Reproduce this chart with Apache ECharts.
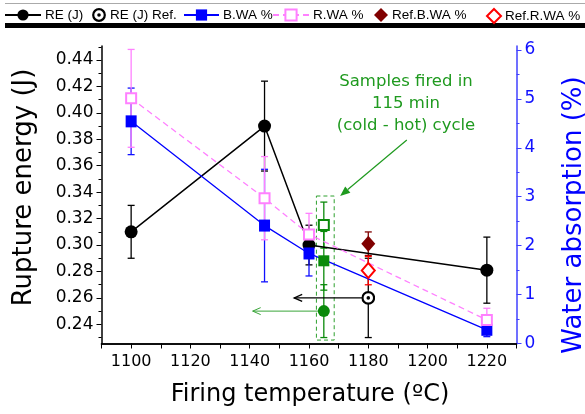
<!DOCTYPE html>
<html>
<head>
<meta charset="utf-8">
<script src="https://cdn.jsdelivr.net/npm/echarts@6/dist/echarts.min.js"></script>
<style>html,body{margin:0;padding:0;background:#fff;}#c{width:585px;height:414px;}</style>
</head>
<body>
<div id="c"></div>
<script>
// ---- data ----
const temps = [1100, 1145, 1160, 1220];
const reValues = [0.310, 0.390, 0.300, 0.281];
const reErrors = [0.020, 0.034, 0.015, 0.025];
const bwaValues = [4.54, 2.41, 1.84, 0.28];
const bwaErrors = [0.68, 1.15, 0.46, 0.14];
const rwaValues = [5.01, 2.97, 2.23, 0.48];
const rwaErrors = [1.00, 0.85, 0.43, 0.24];

const refTemps = [1180];
const refRE = [0.26];
const refREErrors = [0.03];
const refBWA = [2.04];
const refBWAErrors = [0.24];
const refRWA = [1.49];
const refRWAErrors = [0.29];

const cycleTemps = [1165];
const cycleRE = [0.25];
const cycleREErrors = [0.02];
const cycleBWA = [1.69];
const cycleBWAErrors = [0.60];
const cycleRWA = [2.42];
const cycleRWAErrors = [0.47];

const arrowFromX = [1178, 1163];
const arrowToX = [1155, 1141];
const arrowY = [0.26, 0.25];
const cycleBoxX = [1162.5, 1168.5];
const cycleBoxY = [0.2281, 0.3371];
const noteArrowFrom = [1193, 0.3795];
const noteArrowTo = [1170.5, 0.3371];

const xTickLabels = [1100, 1120, 1140, 1160, 1180, 1200, 1220];
const leftTicks = [0.24, 0.26, 0.28, 0.30, 0.32, 0.34, 0.36, 0.38, 0.40, 0.42, 0.44];
const leftMinorTicks = [0.23, 0.25, 0.27, 0.29, 0.31, 0.33, 0.35, 0.37, 0.39, 0.41, 0.43, 0.45];
const rightTicks = [0, 1, 2, 3, 4, 5, 6];
const rightMinorTicks = [0.5, 1.5, 2.5, 3.5, 4.5, 5.5];

const legendNames = ['RE (J)', 'RE (J) Ref.', 'B.WA %', 'R.WA %', 'Ref.B.WA %', 'Ref.R.WA %'];
const noteText = 'Samples fired in\n115 min\n(cold - hot) cycle';
const xTitle = 'Firing temperature (ºC)';
const yLeftTitle = 'Rupture energy (J)';
const yRightTitle = 'Water absorption (%)';

// ---- helpers ----
const pairs = (xs, ys) => xs.map((x, i) => [x, ys[i]]);
const errs = (xs, ys, es) => xs.map((x, i) => [x, ys[i] - es[i], ys[i] + es[i]]);

const ringSvg = "<svg xmlns='http://www.w3.org/2000/svg' width='28' height='28' viewBox='0 0 28 28'>" +
  "<circle cx='14' cy='14' r='11.6' fill='white' stroke='black' stroke-width='4.4'/>" +
  "<circle cx='14' cy='14' r='3.6' fill='black'/></svg>";
const ringSymbol = 'image://data:image/svg+xml;charset=utf-8,' + encodeURIComponent(ringSvg);

function errRender(color, lw) {
  return function (params, api) {
    const x = api.value(0);
    const lo = api.coord([x, api.value(1)]);
    const hi = api.coord([x, api.value(2)]);
    const c = 3.5;
    const st = { stroke: color, lineWidth: lw };
    return { type: 'group', children: [
      { type: 'line', shape: { x1: lo[0], y1: lo[1], x2: hi[0], y2: hi[1] }, style: st },
      { type: 'line', shape: { x1: lo[0] - c, y1: lo[1], x2: lo[0] + c, y2: lo[1] }, style: st },
      { type: 'line', shape: { x1: hi[0] - c, y1: hi[1], x2: hi[0] + c, y2: hi[1] }, style: st }
    ]};
  };
}
function errSeries(name, data, yIdx, color, lw) {
  return { type: 'custom', name: name, data: data, yAxisIndex: yIdx, z: 1, silent: true,
    renderItem: errRender(color, lw), animation: false };
}

const FONT = 'DejaVu Sans';
const BLUE = '#1010ff';
const PINK = '#ff80ff';
const GREEN = '#0a8a0a';

const chart = echarts.init(document.getElementById('c'), null, { renderer: 'canvas' });

const legendLefts = [4, 92, 183, 272, 374, 486];
const legendWidths = [36, 14, 35, 36, 14, 14];
const legends = legendNames.map((n, i) => ({
  data: [n], left: legendLefts[i], top: 8, padding: 0, itemGap: 0,
  itemWidth: legendWidths[i], itemHeight: 14, selectedMode: false,
  textStyle: { fontFamily: 'Liberation Sans', fontSize: 13.5, color: '#000', padding: [0, 0, 0, -1] }
}));

const option = {
  animation: false,
  backgroundColor: '#fff',
  legend: legends,
  grid: { left: 101.5, right: 68.5, top: 46, bottom: 70.5, containLabel: false, outerBoundsMode: 'none' },
  xAxis: [
    { type: 'value', min: 1090, max: 1230, interval: 10, position: 'bottom',
      axisLine: { lineStyle: { color: '#000', width: 1.5 } },
      axisTick: { length: 5, lineStyle: { color: '#000', width: 1 } },
      splitLine: { show: false },
      axisLabel: { interval: 0, margin: 10, fontFamily: FONT, fontSize: 16, color: '#000',
        formatter: v => (xTickLabels.indexOf(v) >= 0 ? String(v) : '') } },
    { type: 'value', min: 1090, max: 1230, interval: 10, position: 'top',
      axisLine: { lineStyle: { color: '#000', width: 1.5 } },
      axisTick: { inside: true, length: 4, lineStyle: { color: '#000' } },
      splitLine: { show: false }, axisLabel: { show: false } }
  ],
  yAxis: [
    { type: 'value', min: 0.2255, max: 0.4506, position: 'left',
      axisLine: { show: true, lineStyle: { color: '#000', width: 1.5 } },
      axisTick: { show: true, length: 5, customValues: leftTicks, lineStyle: { color: '#000' } },
      axisLabel: { customValues: leftTicks, margin: 8, fontFamily: FONT, fontSize: 17, color: '#000',
        formatter: v => v.toFixed(2) },
      splitLine: { show: false } },
    { type: 'value', min: 0.2255, max: 0.4506, position: 'left', offset: 0,
      axisLine: { show: false },
      axisTick: { show: true, length: 3, customValues: leftMinorTicks, lineStyle: { color: '#000' } },
      axisLabel: { show: false }, splitLine: { show: false } },
    { type: 'value', min: 0, max: 6.08, position: 'right',
      axisLine: { show: true, lineStyle: { color: '#4040ff', width: 1.5 } },
      axisTick: { show: true, length: 5, customValues: rightTicks, lineStyle: { color: '#4040ff' } },
      axisLabel: { customValues: rightTicks, margin: 8, fontFamily: FONT, fontSize: 17, color: BLUE },
      splitLine: { show: false } },
    { type: 'value', min: 0, max: 6.08, position: 'right', offset: 0,
      axisLine: { show: false },
      axisTick: { show: true, length: 3, customValues: rightMinorTicks, lineStyle: { color: '#4040ff' } },
      axisLabel: { show: false }, splitLine: { show: false } }
  ],
  graphic: [
    { type: 'rect', shape: { x: 5, y: 3, width: 580, height: 1 }, style: { fill: '#aaa' }, silent: true },
    { type: 'rect', shape: { x: 5, y: 23, width: 580, height: 5 }, style: { fill: '#000' }, silent: true },
    { type: 'text', x: 24, y: 187.5, rotation: Math.PI / 2, silent: true,
      style: { text: yLeftTitle, font: '26px "DejaVu Sans"', fill: '#000', align: 'center', verticalAlign: 'middle' } },
    { type: 'text', x: 574, y: 215, rotation: Math.PI / 2, silent: true,
      style: { text: yRightTitle, font: '26px "DejaVu Sans"', fill: '#0000ff', align: 'center', verticalAlign: 'middle' } },
    { type: 'text', x: 310, y: 395, silent: true,
      style: { text: xTitle, font: '24px "DejaVu Sans"', fill: '#000', align: 'center', verticalAlign: 'middle' } },
    { type: 'text', x: 406, y: 104, silent: true,
      style: { text: noteText, font: '16.5px "DejaVu Sans"', lineHeight: 22, fill: '#1f9a1f', align: 'center', verticalAlign: 'middle' } }
  ],
  series: [
    // error bars
    errSeries('errRE', errs(temps, reValues, reErrors), 0, '#000', 1.3),
    errSeries('errRefRE', errs(refTemps, refRE, refREErrors), 0, '#000', 1.3),
    errSeries('errBWA', errs(temps, bwaValues, bwaErrors), 2, BLUE, 1.3),
    errSeries('errRWA', errs(temps, rwaValues, rwaErrors), 2, PINK, 1.3),
    errSeries('errRefBWA', errs(refTemps, refBWA, refBWAErrors), 2, '#800000', 1.3),
    errSeries('errRefRWA', errs(refTemps, refRWA, refRWAErrors), 2, '#ff0000', 1.3),
    errSeries('errCycRE', errs(cycleTemps, cycleRE, cycleREErrors), 0, GREEN, 1.3),
    errSeries('errCycBWA', errs(cycleTemps, cycleBWA, cycleBWAErrors), 2, GREEN, 1.3),
    errSeries('errCycRWA', errs(cycleTemps, cycleRWA, cycleRWAErrors), 2, GREEN, 1.3),
    // dashed box
    { type: 'custom', name: 'box', yAxisIndex: 0, silent: true, z: 1,
      data: [[cycleBoxX[0], cycleBoxY[0], cycleBoxX[1], cycleBoxY[1]]],
      renderItem: function (params, api) {
        const a = api.coord([api.value(0), api.value(1)]);
        const b = api.coord([api.value(2), api.value(3)]);
        return { type: 'rect', shape: { x: a[0], y: b[1], width: b[0] - a[0], height: a[1] - b[1] },
          style: { fill: 'none', stroke: '#2ea02e', lineWidth: 1, lineDash: [4, 3] } };
      } },
    // horizontal arrows
    { type: 'custom', name: 'arrows', yAxisIndex: 0, silent: true, z: 1,
      data: arrowFromX.map((x, i) => [x, arrowToX[i], arrowY[i], i]),
      renderItem: function (params, api) {
        const p0 = api.coord([api.value(0), api.value(2)]);
        const p1 = api.coord([api.value(1), api.value(2)]);
        const col = api.value(3) === 0 ? '#000' : '#3aa53a';
        const lw = api.value(3) === 0 ? 1.3 : 1;
        const st = { stroke: col, lineWidth: lw, fill: 'none' };
        return { type: 'group', children: [
          { type: 'line', shape: { x1: p0[0], y1: p0[1], x2: p1[0], y2: p1[1] }, style: st },
          { type: 'polyline', shape: { points: [[p1[0] + 8, p1[1] - 3.5], [p1[0], p1[1]], [p1[0] + 8, p1[1] + 3.5]] }, style: st }
        ]};
      } },
    // note arrow
    { type: 'custom', name: 'noteArrow', yAxisIndex: 0, silent: true, z: 1,
      data: [[noteArrowFrom[0], noteArrowFrom[1], noteArrowTo[0], noteArrowTo[1]]],
      renderItem: function (params, api) {
        const p0 = api.coord([api.value(0), api.value(1)]);
        const p1 = api.coord([api.value(2), api.value(3)]);
        const ang = Math.atan2(p1[1] - p0[1], p1[0] - p0[0]);
        const L = 10, W = 4;
        const bx = p1[0] - L * Math.cos(ang), by = p1[1] - L * Math.sin(ang);
        const nx = -Math.sin(ang) * W, ny = Math.cos(ang) * W;
        return { type: 'group', children: [
          { type: 'line', shape: { x1: p0[0], y1: p0[1], x2: bx, y2: by }, style: { stroke: '#1f9a1f', lineWidth: 1.2 } },
          { type: 'polygon', shape: { points: [[p1[0], p1[1]], [bx + nx, by + ny], [bx - nx, by - ny]] }, style: { fill: '#1f9a1f' } }
        ]};
      } },
    // main series
    { type: 'line', name: 'RE (J)', yAxisIndex: 0, data: pairs(temps, reValues),
      symbol: 'circle', symbolSize: 13, z: 3,
      itemStyle: { color: '#000' }, lineStyle: { color: '#000', width: 1.5 } },
    { type: 'scatter', name: 'RE (J) Ref.', yAxisIndex: 0, data: pairs(refTemps, refRE),
      symbol: ringSymbol, symbolSize: 14, z: 3, itemStyle: { color: '#000', opacity: 1 } },
    { type: 'line', name: 'B.WA %', yAxisIndex: 2, data: pairs(temps, bwaValues),
      symbol: 'rect', symbolSize: [11, 12], z: 4,
      itemStyle: { color: '#0000ff' }, lineStyle: { color: '#0000ff', width: 1.3 } },
    { type: 'line', name: 'R.WA %', yAxisIndex: 2, data: pairs(temps, rwaValues),
      symbol: 'rect', symbolSize: 10, z: 4,
      itemStyle: { color: '#fff', borderColor: PINK, borderWidth: 2 },
      lineStyle: { color: PINK, width: 1.3, type: [6, 4] } },
    { type: 'scatter', name: 'Ref.B.WA %', yAxisIndex: 2, data: pairs(refTemps, refBWA),
      symbol: 'diamond', symbolSize: [14, 16], z: 4, itemStyle: { color: '#800000', opacity: 1 } },
    { type: 'scatter', name: 'Ref.R.WA %', yAxisIndex: 2, data: pairs(refTemps, refRWA),
      symbol: 'diamond', symbolSize: [13, 15], z: 4,
      itemStyle: { color: '#fff', borderColor: '#ff0000', borderWidth: 2, opacity: 1 } },
    { type: 'scatter', name: 'cycleRE', yAxisIndex: 0, data: pairs(cycleTemps, cycleRE),
      symbol: 'circle', symbolSize: 12, z: 4, itemStyle: { color: GREEN, opacity: 1 } },
    { type: 'scatter', name: 'cycleBWA', yAxisIndex: 2, data: pairs(cycleTemps, cycleBWA),
      symbol: 'rect', symbolSize: 11, z: 4, itemStyle: { color: GREEN, opacity: 1 } },
    { type: 'scatter', name: 'cycleRWA', yAxisIndex: 2, data: pairs(cycleTemps, cycleRWA),
      symbol: 'rect', symbolSize: 10, z: 4,
      itemStyle: { color: '#fff', borderColor: GREEN, borderWidth: 2, opacity: 1 } }
  ]
};
chart.setOption(option);
</script>
</body>
</html>
